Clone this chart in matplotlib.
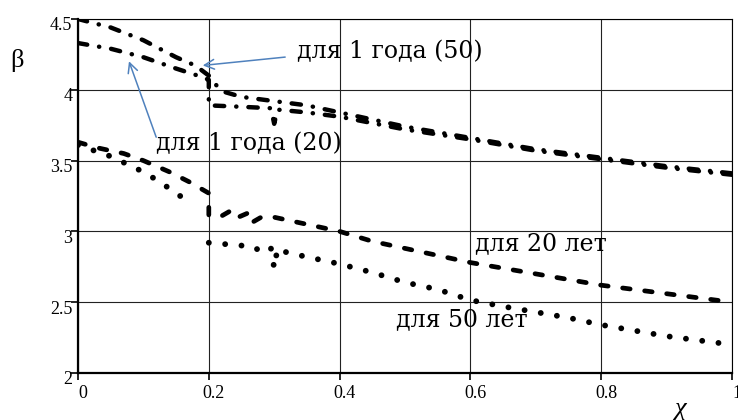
import matplotlib
matplotlib.use("Agg")
import matplotlib.pyplot as plt
import matplotlib.transforms as mtrans

# ---- data ----
x_1y50 = [0.0, 0.05, 0.10, 0.15, 0.18, 0.20, 0.21, 0.22, 0.25, 0.30, 0.35, 0.40, 0.50, 0.60, 0.70, 0.80, 0.90, 1.00]
y_1y50 = [4.50, 4.44, 4.35, 4.23, 4.17, 4.10, 4.04, 3.99, 3.95, 3.92, 3.89, 3.84, 3.74, 3.66, 3.58, 3.52, 3.46, 3.41]

x_1y20 = [0.0, 0.05, 0.10, 0.15, 0.19, 0.20, 0.20, 0.25, 0.295, 0.30, 0.305, 0.35, 0.40, 0.50, 0.60, 0.70, 0.80, 0.90, 1.00]
y_1y20 = [4.33, 4.29, 4.23, 4.15, 4.09, 4.07, 3.89, 3.88, 3.87, 3.76, 3.86, 3.84, 3.81, 3.72, 3.65, 3.57, 3.51, 3.45, 3.40]

x_20 = [0.0, 0.03, 0.07, 0.10, 0.14, 0.17, 0.20, 0.20, 0.22, 0.235, 0.245, 0.26, 0.265, 0.28, 0.30, 0.34, 0.37, 0.40, 0.45, 0.50, 0.56, 0.60, 0.70, 0.80, 0.90, 1.00]
y_20 = [3.63, 3.59, 3.55, 3.50, 3.42, 3.35, 3.27, 3.11, 3.11, 3.15, 3.10, 3.13, 3.06, 3.10, 3.10, 3.06, 3.03, 3.00, 2.93, 2.88, 2.82, 2.78, 2.70, 2.62, 2.56, 2.50]

x_50a = [0.0, 0.05, 0.10, 0.125, 0.15, 0.175]
y_50a = [3.61, 3.53, 3.42, 3.35, 3.27, 3.19]
x_50b = [0.20, 0.25, 0.27, 0.28, 0.295, 0.30, 0.305, 0.32, 0.35, 0.40, 0.45, 0.50, 0.55, 0.60, 0.65, 0.70, 0.75, 0.80, 0.85, 0.90, 0.95, 1.00]
y_50b = [2.92, 2.90, 2.89, 2.85, 2.88, 2.74, 2.88, 2.85, 2.82, 2.77, 2.71, 2.64, 2.59, 2.515, 2.47, 2.43, 2.39, 2.34, 2.30, 2.26, 2.23, 2.20]

x_ticks = [0, 0.2, 0.4, 0.6, 0.8, 1]
x_ticklabels = ["0", "0.2", "0.4", "0.6", "0.8", "1"]
y_ticks = [2, 2.5, 3, 3.5, 4, 4.5]
y_ticklabels = ["2", "2.5", "3", "3.5", "4", "4.5"]

label_50y1 = "для 1 года (50)"
label_20y1 = "для 1 года (20)"
label_20 = "для 20 лет"
label_50 = "для 50 лет"

# ---- figure ----
fig = plt.figure(figsize=(7.38, 4.2), dpi=100)
ax = fig.add_axes([78/738, 1-373/420, (732-78)/738, (373-19)/420])
ax.set_xlim(0, 1)
ax.set_ylim(2, 4.5)

serif = ["Liberation Serif", "DejaVu Serif"]
annot = ["DejaVu Serif"]

ax.plot(x_1y50, y_1y50, color="black", lw=3.2, linestyle=(0, (2.1, 2.7, 0.05, 2.7)),
        dash_capstyle="round")
ax.plot(x_1y20, y_1y20, color="black", lw=3.2, linestyle=(0, (2.1, 2.7, 0.05, 2.7)),
        dash_capstyle="round")
ax.plot(x_20, y_20, color="black", lw=3.4, linestyle=(0, (1.6, 3.1)),
        dash_capstyle="round")
ax.plot(x_50a, y_50a, color="black", lw=4.2, linestyle=(0, (0.01, 2.8)),
        dash_capstyle="round")
ax.plot(x_50b, y_50b, color="black", lw=4.2, linestyle=(0, (0.01, 2.8)),
        dash_capstyle="round")

ax.set_xticks(x_ticks)
ax.set_xticklabels(x_ticklabels, family=serif, fontsize=13)
ax.set_yticks(y_ticks)
ax.set_yticklabels(y_ticklabels, family=serif, fontsize=13)
ax.tick_params(axis="both", direction="out", length=5, width=1.2, color="black")
ax.tick_params(axis="x", pad=4)
ax.tick_params(axis="y", pad=-1)
ax.grid(True, color="#222222", lw=0.8)
ax.set_axisbelow(True)
for s in ["left", "bottom"]:
    ax.spines[s].set_linewidth(1.6)
for s in ["top", "right"]:
    ax.spines[s].set_linewidth(0.8)

# tick labels sit slightly right / below their ticks in the reference
off_x = mtrans.ScaledTranslation(5/100, 0, fig.dpi_scale_trans)
for lab in ax.get_xticklabels():
    lab.set_transform(lab.get_transform() + off_x)
off_y = mtrans.ScaledTranslation(0, -5/100, fig.dpi_scale_trans)
for lab in ax.get_yticklabels():
    lab.set_transform(lab.get_transform() + off_y)

fig.text(17/738, 1-60/420, "β", family=serif, fontsize=19, va="center", ha="center")
fig.text(680/738, 1-409/420, "χ", family=serif, fontsize=19, style="italic",
         va="center", ha="center")

arrow_color = "#4f81bd"
ax.annotate("", xy=(0.1865, 4.17), xytext=(0.321, 4.233),
            arrowprops=dict(arrowstyle="->,head_length=0.7,head_width=0.35", color=arrow_color, lw=1.1))
ax.annotate("", xy=(0.0765, 4.22), xytext=(0.121, 3.647),
            arrowprops=dict(arrowstyle="->,head_length=0.7,head_width=0.35", color=arrow_color, lw=1.1))

ax.text(0.335, 4.27, label_50y1, family=annot, fontsize=17, va="center", ha="left")
ax.text(0.12, 3.62, label_20y1, family=annot, fontsize=17, va="center", ha="left")
ax.text(0.607, 2.91, label_20, family=annot, fontsize=17, va="center", ha="left")
ax.text(0.487, 2.38, label_50, family=annot, fontsize=17, va="center", ha="left")

fig.savefig("out.png", dpi=100)
